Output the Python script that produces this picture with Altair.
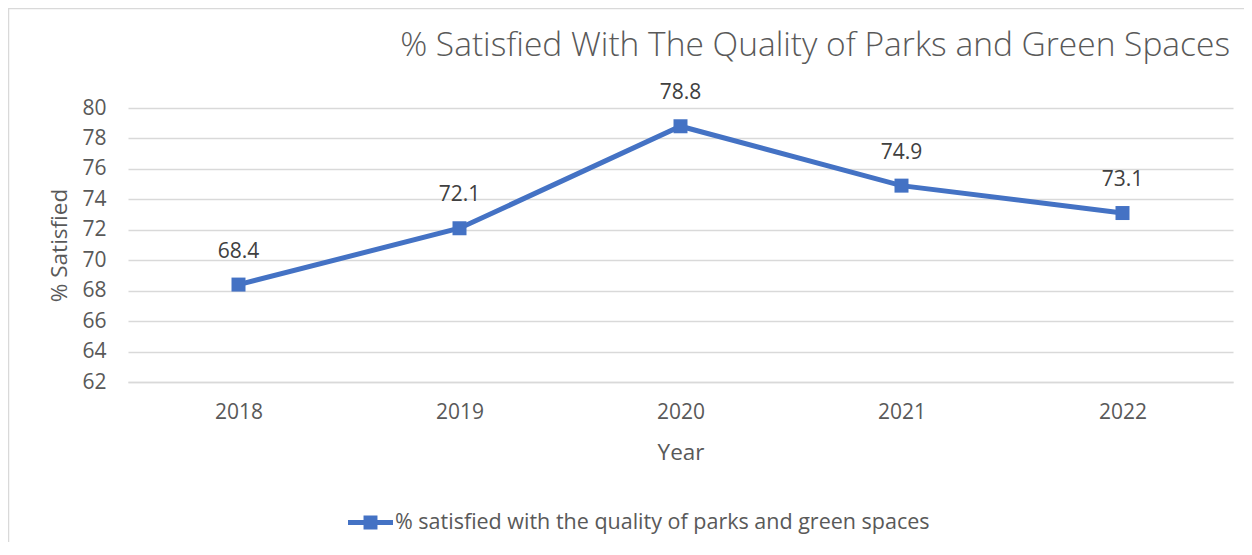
import altair as alt
import pandas as pd

years = ["2018", "2019", "2020", "2021", "2022"]
values = [68.4, 72.1, 78.8, 74.9, 73.1]
series_name = "% satisfied with the quality of parks and green spaces"
chart_title = "% Satisfied With The Quality of Parks and Green Spaces"
y_ticks = [62, 64, 66, 68, 70, 72, 74, 76, 78, 80]

df = pd.DataFrame({"Year": years, "value": values, "series": [series_name] * len(years)})

BLUE = "#4472C4"
FONT = "Open Sans"
GRAY = "#595959"
W, H = 1105, 274

x_enc = alt.X("Year:N", title="Year", sort=years,
              scale=alt.Scale(type="point", padding=0.5),
              axis=alt.Axis(labelAngle=0, labelFontSize=21, labelColor=GRAY, labelFont=FONT,
                            titleFontSize=22.5, titleColor=GRAY, titleFont=FONT, titleFontWeight="normal",
                            titlePadding=19, labelPadding=19, ticks=False, domainColor="#d9d9d9",
                            domainWidth=1.5, grid=False))
y_enc = alt.Y("value:Q", title="% Satisfied",
              scale=alt.Scale(domain=[62, 80], nice=False, zero=False),
              axis=alt.Axis(values=y_ticks, labelFontSize=21, labelColor=GRAY, labelFont=FONT,
                            titleFontSize=22.5, titleColor=GRAY, titleFont=FONT, titleFontWeight="normal",
                            titlePadding=10, labelPadding=22, ticks=False, domain=False,
                            gridColor="#d9d9d9", gridWidth=1.5))

legend_path = ("M-1,-0.11 L1,-0.11 L1,0.11 L-1,0.11 Z "
               "M-0.31,-0.31 L0.31,-0.31 L0.31,0.31 L-0.31,0.31 Z")

color_enc = alt.Color("series:N", scale=alt.Scale(range=[BLUE]),
                      legend=alt.Legend(title=None, orient="none", legendX=220, legendY=392,
                                        symbolType=legend_path, symbolSize=2025,
                                        symbolFillColor=BLUE, symbolStrokeColor=BLUE,
                                        symbolStrokeWidth=0, labelFontSize=21.5, labelColor=GRAY,
                                        labelFont=FONT, labelOffset=2, labelLimit=900))

base = alt.Chart(df)

line = base.mark_line(strokeWidth=5).encode(x=x_enc, y=y_enc, color=color_enc)
points = base.mark_square(size=196, opacity=1, filled=True).encode(
    x=x_enc, y=y_enc, color=alt.Color("series:N", scale=alt.Scale(range=[BLUE]), legend=None))
labels = base.mark_text(dy=-33, fontSize=21, color="#404040", font=FONT).encode(
    x=x_enc, y=y_enc, text=alt.Text("value:Q", format=".1f"))

one = alt.Data(values=[{"t": chart_title}])

border = alt.Chart(one).mark_rect(
    fill=None, stroke="#d9d9d9", strokeWidth=1.5).encode(
    x=alt.value(-119.5), x2=alt.value(W + 30),
    y=alt.value(-99.5), y2=alt.value(H + 200))

title = alt.Chart(one).mark_text(
    align="right", baseline="middle", fontSize=33.5, font=FONT, fontWeight=300, color=GRAY).encode(
    x=alt.value(W - 3), y=alt.value(-62), text="t:N")

chart = alt.layer(border, title, line, points, labels).properties(
    width=W, height=H,
    autosize=alt.AutoSizeParams(type="none"),
    padding={"left": 120, "top": 100, "right": 11, "bottom": 160},
).configure_view(stroke=None)

chart.save("out.html", embed_options={"renderer": "svg", "actions": False})
